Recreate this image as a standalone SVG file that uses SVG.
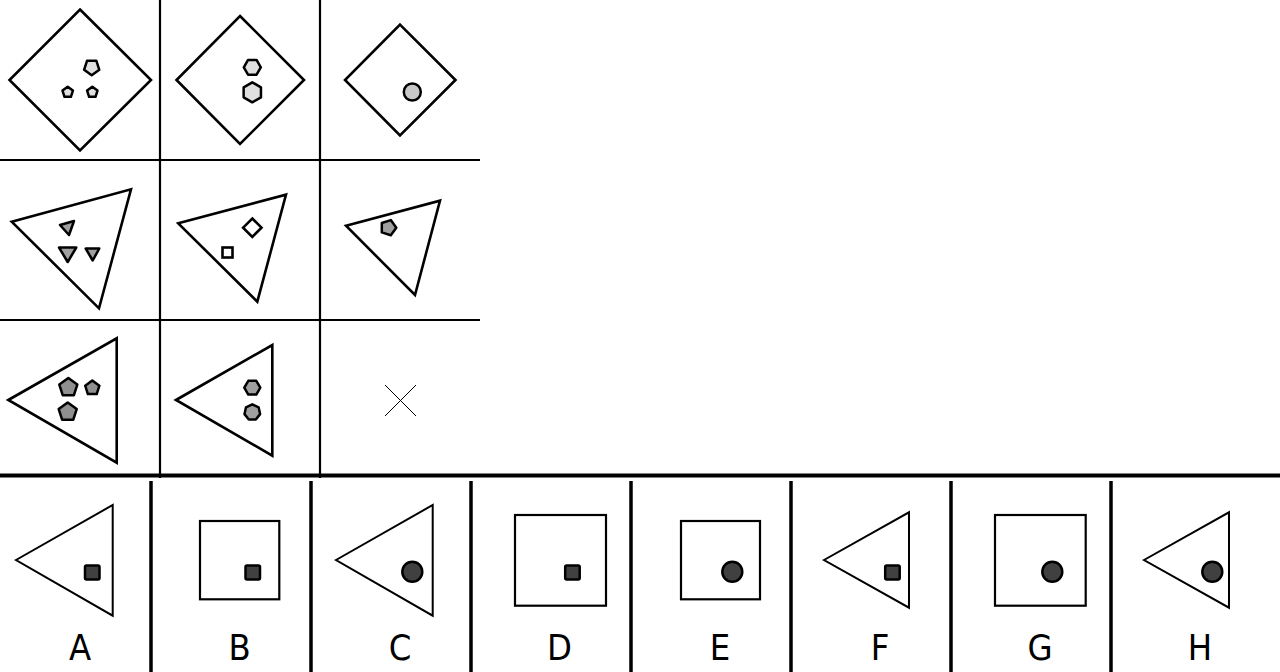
<svg xmlns="http://www.w3.org/2000/svg" width="1280" height="672" viewBox="0 0 1280 672">
<style>
.o{fill:none;stroke:#000;stroke-width:2.6;stroke-linejoin:miter}
.ow{fill:#fff;stroke:#000;stroke-width:2.6}
.s{stroke:#000;stroke-width:2.5;stroke-linejoin:round}
.lg{fill:#e0e0e0}.mg{fill:#c8c8c8}.g{fill:#a0a0a0}.dg{fill:#909090}.dk{fill:#404040}
.grid{stroke:#000;stroke-width:2.2}
.sep{stroke:#000;stroke-width:3.5}
.lab{font-family:"DejaVu Sans Condensed","DejaVu Sans",sans-serif;font-size:36px;text-anchor:middle;fill:#000}
</style>
<rect width="1280" height="672" fill="#fff"/>
<g id="grid">
<line class="grid" x1="160" y1="0" x2="160" y2="478"/>
<line class="grid" x1="320" y1="0" x2="320" y2="478"/>
<line class="grid" x1="0" y1="160" x2="480" y2="160"/>
<line class="grid" x1="0" y1="320" x2="480" y2="320"/>
<line stroke="#000" stroke-width="4" x1="0" y1="475.5" x2="1280" y2="475.5"/>
<line class="sep" x1="151" y1="481" x2="151" y2="672"/>
<line class="sep" x1="311" y1="481" x2="311" y2="672"/>
<line class="sep" x1="471" y1="481" x2="471" y2="672"/>
<line class="sep" x1="631" y1="481" x2="631" y2="672"/>
<line class="sep" x1="791" y1="481" x2="791" y2="672"/>
<line class="sep" x1="951" y1="481" x2="951" y2="672"/>
<line class="sep" x1="1111" y1="481" x2="1111" y2="672"/>
</g>
<g id="cell1">
<polygon class="o" points="80,9.5 151,80 80,150.5 9.5,80"/>
<polygon class="s lg" points="91.7,75.3 84.1,69.8 87,60.8 96.4,60.8 99.3,69.8"/>
<polygon class="s lg" points="67.7,86.8 72.9,90.6 70.9,96.8 64.5,96.8 62.5,90.6"/>
<polygon class="s lg" points="92.3,86.8 97.5,90.6 95.5,96.8 89.1,96.8 87.1,90.6"/>
</g>
<g id="cell2">
<polygon class="o" points="240,16 304,80 240,144 176.5,80"/>
<polygon class="s lg" points="260.8,67.3 256.55,74.66 248.05,74.66 243.8,67.3 248.05,59.94 256.55,59.94"/>
<polygon class="s lg" points="252.3,82.3 260.96,87.3 260.96,97.3 252.3,102.3 243.64,97.3 243.64,87.3"/>
</g>
<g id="cell3">
<polygon class="o" points="400,24.7 455.5,80 400,135.5 345,80"/>
<circle class="s mg" cx="412.3" cy="92" r="8.5"/>
</g>
<g id="cell4">
<polygon class="o" points="11.7,221.7 131,189.3 99,308.3"/>
<polygon class="s g" points="60,225 74,221 69,235"/>
<polygon class="s g" points="59,247.5 76.3,247.5 67.7,262"/>
<polygon class="s g" points="85.7,248.5 99.3,248.5 92.7,260.5"/>
</g>
<g id="cell5">
<polygon class="o" points="178.3,223.3 286,194.7 257.3,301.7"/>
<polygon class="ow" points="252.3,218.5 261.5,227.7 252.3,236.9 243.1,227.7"/>
<rect class="ow" x="222.5" y="247.5" width="10" height="10"/>
</g>
<g id="cell6">
<polygon class="o" points="346,225.7 440,200.7 415,295"/>
<polygon class="s g" points="396.3,227.7 390.8,235.3 381.8,232.4 381.8,223 390.8,220.1"/>
</g>
<g id="cell7">
<polygon class="o" points="8.3,400 116.7,338.3 116.7,462.7"/>
<polygon class="s dg" points="68.3,378 77.3,384.6 73.9,395.2 62.7,395.2 59.3,384.6"/>
<polygon class="s dg" points="92.3,380.5 99.4,385.7 96.7,394.1 87.9,394.1 85.2,385.7"/>
<polygon class="s dg" points="67.7,402.5 76.7,409.1 73.3,419.7 62.1,419.7 58.7,409.1"/>
</g>
<g id="cell8">
<polygon class="o" points="176,400 272.3,345 272.3,455.7"/>
<polygon class="s g" points="260.3,387.7 256.3,394.6 248.3,394.6 244.3,387.7 248.3,380.8 256.3,380.8"/>
<polygon class="s g" points="252.3,404.3 258.6,407.3 260.1,414.1 255.8,419.5 248.8,419.5 244.5,414.1 246,407.3"/>
</g>
<g id="cell9">
<line stroke="#000" stroke-width="1" x1="385" y1="385" x2="416" y2="416"/>
<line stroke="#000" stroke-width="1" x1="416" y1="385" x2="385" y2="416"/>
</g>
<g id="optA">
<polygon class="o" style="stroke-width:2" points="16,560 112.7,505 112.7,615.7"/>
<rect class="s dk" x="85" y="565.5" width="14.5" height="14" rx="1.5"/>
<text class="lab" x="80" y="660">A</text>
</g>
<g id="optB">
<rect class="o" style="stroke-width:2.2" x="200" y="521" width="79.3" height="78.3"/>
<rect class="s dk" x="245.5" y="565.5" width="14.5" height="14" rx="1.5"/>
<text class="lab" x="239.5" y="660">B</text>
</g>
<g id="optC">
<polygon class="o" style="stroke-width:2" points="336,560 432.7,505 432.7,615.7"/>
<circle class="s dk" cx="412.3" cy="571.7" r="10"/>
<text class="lab" x="400" y="660">C</text>
</g>
<g id="optD">
<rect class="o" style="stroke-width:2.2" x="515" y="515" width="91" height="90.7"/>
<rect class="s dk" x="565.2" y="565.5" width="14.5" height="14" rx="1.5"/>
<text class="lab" x="559.5" y="660">D</text>
</g>
<g id="optE">
<rect class="o" style="stroke-width:2.2" x="681" y="521" width="79" height="78.3"/>
<circle class="s dk" cx="732.3" cy="571.7" r="10"/>
<text class="lab" x="720" y="660">E</text>
</g>
<g id="optF">
<polygon class="o" style="stroke-width:2" points="824,560 909,512.3 909,607.7"/>
<rect class="s dk" x="885.2" y="565.5" width="14.5" height="14" rx="1.5"/>
<text class="lab" x="880" y="660">F</text>
</g>
<g id="optG">
<rect class="o" style="stroke-width:2.2" x="995" y="515" width="90.7" height="90.7"/>
<circle class="s dk" cx="1052.3" cy="571.7" r="10"/>
<text class="lab" x="1040" y="660">G</text>
</g>
<g id="optH">
<polygon class="o" style="stroke-width:2" points="1144,560 1229,512.3 1229,607.7"/>
<circle class="s dk" cx="1212.3" cy="571.7" r="10"/>
<text class="lab" x="1200" y="660">H</text>
</g>
</svg>
